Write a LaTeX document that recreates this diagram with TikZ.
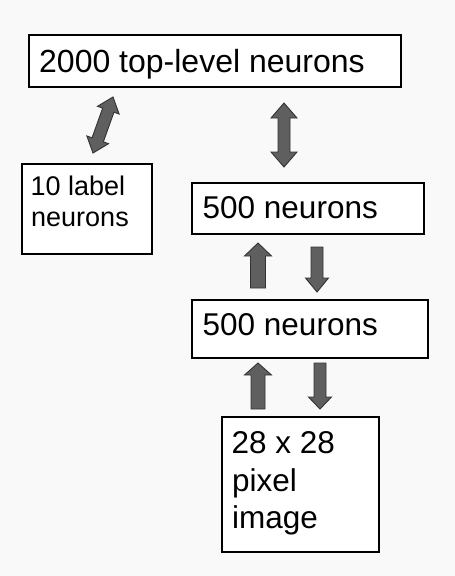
\documentclass[tikz,border=0pt]{standalone}
\usepackage{fontspec}
\setmainfont{Liberation Sans}
\definecolor{bgcol}{HTML}{F9F9F9}
\definecolor{arrfill}{HTML}{5F5F5F}
\definecolor{arrline}{HTML}{333333}
\tikzset{
  box/.style={draw=black, line width=1.6pt, fill=white, inner sep=0pt, anchor=north west},
  blk/.style={fill=arrfill, draw=arrline, line width=0.9pt, line join=miter},
  txt/.style={anchor=base west, inner sep=0pt}
}
% double block arrow: center, angle, half length, shaft half, head half, head length
\newcommand\dblblk[6]{%
  \begin{scope}[shift={(#1)},rotate=#2]
    \draw[blk] (-#3,0) -- (-#3+#6,#5) -- (-#3+#6,#4) -- (#3-#6,#4) -- (#3-#6,#5) -- (#3,0)
      -- (#3-#6,-#5) -- (#3-#6,-#4) -- (-#3+#6,-#4) -- (-#3+#6,-#5) -- cycle;
  \end{scope}}
% single block arrow (tip at +half length)
\newcommand\sglblk[6]{%
  \begin{scope}[shift={(#1)},rotate=#2]
    \draw[blk] (-#3,#4) -- (#3-#6,#4) -- (#3-#6,#5) -- (#3,0) -- (#3-#6,-#5) -- (#3-#6,-#4)
      -- (-#3,-#4) -- cycle;
  \end{scope}}
\begin{document}
\begin{tikzpicture}[x=1pt,y=-1pt]
  \fill[bgcol] (0,0) rectangle (455,576);
  \useasboundingbox (0,0) rectangle (455,576);

  % boxes
  \node[box, minimum width=372pt, minimum height=52pt] (top) at (28,34) {};
  \node[box, minimum width=130pt, minimum height=90pt] (lab) at (21,163) {};
  \node[box, minimum width=232pt, minimum height=51pt] (hA) at (191,182) {};
  \node[box, minimum width=236pt, minimum height=58pt] (hB) at (191,299) {};
  \node[box, minimum width=157pt, minimum height=135pt] (img) at (221,416) {};

  % texts
  \node[txt, font=\fontsize{32}{38}\selectfont] (ttop) at (39,72) {2000 top-level neurons};
  \node[txt, font=\fontsize{27}{31}\selectfont] (tlab1) at (30.5,195) {10 label};
  \node[txt, font=\fontsize{27}{31}\selectfont] (tlab2) at (31,226) {neurons};
  \node[txt, font=\fontsize{31.5}{37.5}\selectfont] (thA) at (202.5,218) {500 neurons};
  \node[txt, font=\fontsize{31.5}{37.5}\selectfont] (thB) at (202.5,335) {500 neurons};
  \node[txt, font=\fontsize{31.5}{37.5}\selectfont] (timg1) at (231.5,453) {28 x 28};
  \node[txt, font=\fontsize{31.5}{37.5}\selectfont] (timg2) at (232,491) {pixel};
  \node[txt, font=\fontsize{31.5}{37.5}\selectfont] (timg3) at (232,528) {image};

  % arrow centres
  \coordinate (cdiag) at (103,125);
  \coordinate (cvert) at (284,135);
  \coordinate (cupA) at (258,265.5);
  \coordinate (cdnA) at (317,269.5);
  \coordinate (cupB) at (258,386);
  \coordinate (cdnB) at (320,386);

  \dblblk{cdiag}{70.3}{29.75}{6}{11.5}{14}
  \dblblk{cvert}{90}{32}{6}{13}{15}
  \sglblk{cupA}{90}{22.5}{7.5}{13.5}{13}
  \sglblk{cdnA}{-90}{22.5}{6}{11.5}{14}
  \sglblk{cupB}{90}{23}{7}{13.5}{12}
  \sglblk{cdnB}{-90}{23}{6}{11.5}{12}
\end{tikzpicture}
\end{document}
